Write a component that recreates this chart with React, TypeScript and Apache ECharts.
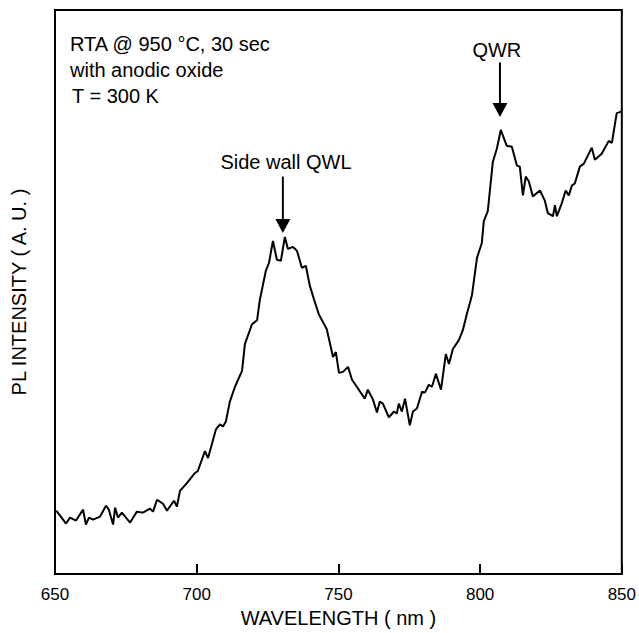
import React, { useEffect, useRef } from "react";
import * as echarts from "echarts";

const wavelengths = [
  650, 650.7, 651.8, 653.9, 655.3, 657.4, 659.9, 660.9, 662.0, 663.4,
  665.9, 668.0, 669.0, 670.5, 671.2, 672.2, 673.6, 676.5, 678.9, 681.0,
  683.5, 684.6, 686.0, 688.1, 689.5, 692.0, 693.0, 694.1, 696.6, 699.4,
  700.4, 702.9, 704.0,
  706.8, 708.2, 709.3, 710.3, 711.7, 713.5, 716.0, 717.0, 719.5, 721.3,
  722.3, 724.4, 725.5, 726.9, 728.3, 729.7, 731.1, 732.2, 734.0, 735.4,
  737.1, 738.5, 739.9, 741.4, 743.1,
  745.9, 748.1, 749.1, 750.2, 751.6, 753.4, 754.8, 756.5, 759.3, 760.4,
  762.2, 763.6, 764.6, 765.7, 767.8, 769.6, 770.6, 771.3, 772.4, 773.5,
  775.2, 776.3, 777.7, 779.5, 780.5, 781.9,
  783.0, 784.4, 786.2, 787.9, 789.0, 790.4, 792.5, 793.9, 795.3, 797.1,
  798.9, 800.6, 801.3, 802.7, 804.5, 805.9, 807.3, 809.4, 811.2, 813.0,
  814.0, 815.1, 816.1, 817.2,
  818.6, 821.1, 822.8, 823.9, 825.7, 826.4, 827.1, 828.8, 830.2, 831.3,
  832.4, 833.4, 835.2, 836.6, 839.4, 840.5, 842.9, 845.4, 846.5, 848.2,
  849.3, 850,
];

const intensity = [
  64, 63, 59, 51, 57, 54, 65, 50, 57, 55,
  58, 69, 65, 50, 67, 57, 62, 52, 63, 62,
  66, 63, 75, 71, 64, 74, 68, 84, 92, 102,
  104, 124, 117,
  146, 151, 149, 154, 174, 189, 205, 232, 252, 256,
  277, 306, 314, 336, 317, 316, 340, 328, 330, 326,
  309, 311, 291, 277, 262,
  247, 219, 224, 203, 204, 209, 196, 189, 177, 186,
  176, 163, 174, 172, 158, 164, 162, 172, 164, 177,
  150, 164, 167, 184, 183, 191,
  189, 202, 186, 222, 212, 227, 236, 246, 262, 281,
  319, 334, 356, 366, 416, 429, 448, 432, 431, 412,
  411, 382, 401, 396,
  381, 387, 377, 364, 361, 372, 361, 374, 387, 382,
  392, 394, 411, 414, 430, 418, 424, 437, 435, 465,
  466, 467,
];

const xTicks = [650, 700, 750, 800, 850];

const annotationLabels = ["Side wall QWL", "QWR"];
const annotationLabelX = [731.5, 805.9];
const annotationLabelY = [416, 529];
const arrowX = [730.4, 807.0];
const arrowTop = [401, 516];
const arrowTip = [344, 461];

const infoLines = ["RTA @ 950 °C, 30 sec", "with anodic oxide", "T = 300 K"];

const FONT = '"Liberation Sans", Arial, Helvetica, sans-serif';

export default function App() {
  const ref = useRef<HTMLDivElement>(null);

  useEffect(() => {
    if (!ref.current) return;
    const chart = echarts.init(ref.current, undefined, { renderer: "svg" });
    const data = wavelengths.map((w, i) => [w, intensity[i]]);
    chart.setOption({
      animation: false,
      backgroundColor: "#ffffff",
      grid: {
        left: 55,
        right: 17,
        top: 10,
        bottom: 54,
        show: true,
        borderColor: "#000",
        borderWidth: 2,
        backgroundColor: "transparent",
      },
      xAxis: {
        type: "value",
        min: xTicks[0],
        max: xTicks[xTicks.length - 1],
        interval: 50,
        name: "WAVELENGTH ( nm )",
        nameLocation: "middle",
        nameGap: 33,
        nameTextStyle: { color: "#000", fontSize: 20, fontFamily: FONT },
        axisLine: { lineStyle: { color: "#000", width: 2 } },
        axisTick: { inside: true, length: 10, lineStyle: { color: "#000", width: 2 } },
        axisLabel: { color: "#000", fontSize: 17, fontFamily: FONT, margin: 12 },
        splitLine: { show: false },
      },
      yAxis: {
        type: "value",
        min: 0,
        max: 569,
        name: "PL INTENSITY ( A. U. )",
        nameLocation: "middle",
        nameGap: 26,
        nameTextStyle: { color: "#000", fontSize: 20, fontFamily: FONT },
        axisLine: { show: true, lineStyle: { color: "#000", width: 2 } },
        axisTick: { show: false },
        axisLabel: { show: false },
        splitLine: { show: false },
      },
      series: [
        {
          type: "line",
          data,
          symbol: "none",
          lineStyle: { color: "#000", width: 2 },
        },
      ],
    });

    const graphics: any[] = [];
    infoLines.forEach((t, i) => {
      graphics.push({
        type: "text",
        left: i === 2 ? 72 : 70,
        top: 34 + i * 26,
        style: { text: t, fill: "#000", font: `20px ${FONT}` },
      });
    });
    annotationLabels.forEach((label, i) => {
      const lp = chart.convertToPixel({ gridIndex: 0 }, [annotationLabelX[i], annotationLabelY[i]]) as number[];
      const top = chart.convertToPixel({ gridIndex: 0 }, [arrowX[i], arrowTop[i]]) as number[];
      const tip = chart.convertToPixel({ gridIndex: 0 }, [arrowX[i], arrowTip[i]]) as number[];
      graphics.push({
        type: "text",
        x: lp[0],
        y: lp[1],
        style: {
          text: label,
          fill: "#000",
          font: `20px ${FONT}`,
          align: "center",
          verticalAlign: "middle",
        },
      });
      graphics.push({
        type: "line",
        shape: { x1: top[0], y1: top[1], x2: tip[0], y2: tip[1] - 10 },
        style: { stroke: "#000", lineWidth: 2 },
      });
      graphics.push({
        type: "polygon",
        shape: {
          points: [
            [tip[0] - 7.5, tip[1] - 14],
            [tip[0] + 7.5, tip[1] - 14],
            [tip[0], tip[1]],
          ],
        },
        style: { fill: "#000" },
      });
    });
    chart.setOption({ graphic: graphics });

    return () => chart.dispose();
  }, []);

  return (
    <div
      ref={ref}
      style={{ position: "absolute", left: 0, top: 0, width: 639, height: 633 }}
    />
  );
}
